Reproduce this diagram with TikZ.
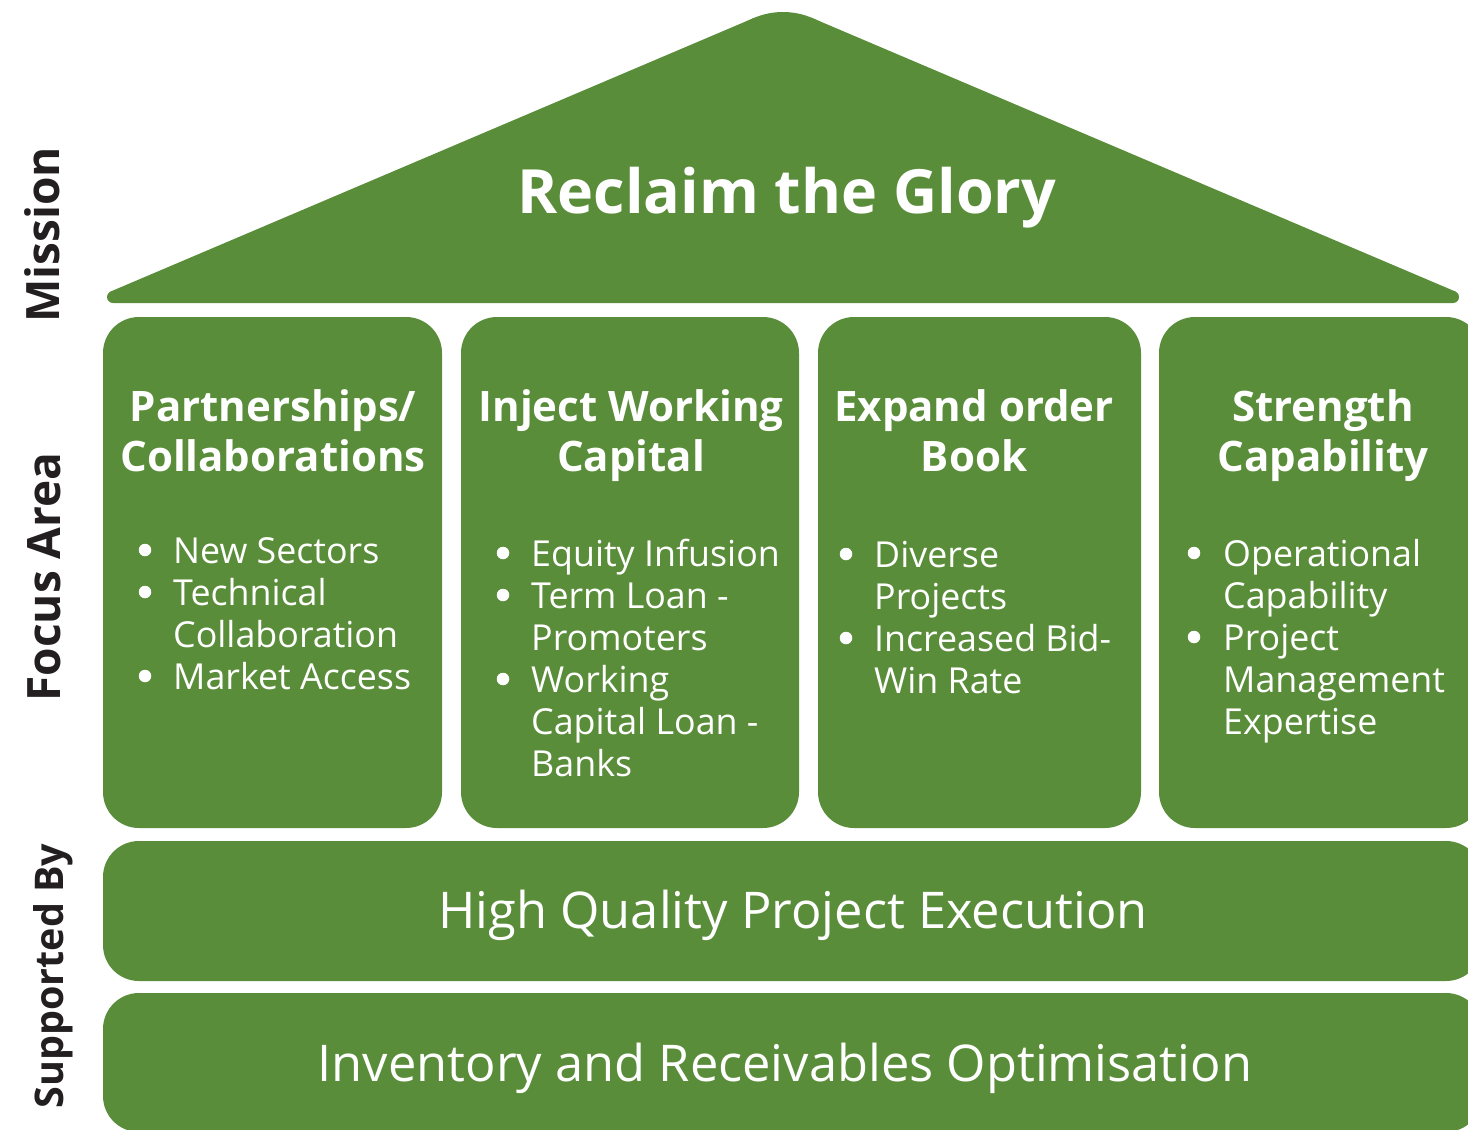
\documentclass[tikz,border=0pt]{standalone}
\usepackage{fontspec}
\setmainfont{Open Sans}
\definecolor{leaf}{RGB}{90,141,58}
\definecolor{labelink}{RGB}{35,31,32}
\tikzset{
  block/.style={fill=leaf, draw=none, rounded corners=36pt, inner sep=0pt},
  titletext/.style={text=white, font=\bfseries\fontsize{61}{70}\selectfont, anchor=base, inner sep=0pt},
  headtext/.style={text=white, font=\bfseries\fontsize{42}{50}\selectfont, anchor=base, inner sep=0pt},
  itemtext/.style={text=white, font=\fontsize{35.8}{42}\selectfont, anchor=base west, inner sep=0pt},
  bulletdot/.style={circle, fill=white, minimum size=12.5pt, inner sep=0pt},
  bartext/.style={text=white, font=\fontsize{50.6}{60}\selectfont, anchor=base, inner sep=0pt},
  sidetext/.style={text=labelink, font=\bfseries\fontsize{46}{56}\selectfont, rotate=90, anchor=base, inner sep=0pt}
}
\begin{document}
\begin{tikzpicture}[x=1pt,y=-1pt]
\useasboundingbox (0,0) rectangle (1468,1130);
\clip (0,0) rectangle (1468,1130);
% roof: straight edges between tangent points, rounded by filled circles
\fill[leaf] (113,303) -- (110.65,291.5) -- (754.1,17.9) -- (811.9,17.9)
  -- (1455.35,291.5) -- (1453,303) -- cycle;
\fill[leaf] (113,297) circle[radius=6pt];
\fill[leaf] (1453,297) circle[radius=6pt];
\fill[leaf] (783,86) circle[radius=74pt];
\node[titletext] (title) at (787,213) {Reclaim the Glory};
% pillars
\node[block, minimum width=339pt, minimum height=511pt] (p1) at (272.5,572.5) {};
\node[block, minimum width=338pt, minimum height=511pt] (p2) at (630,572.5) {};
\node[block, minimum width=323pt, minimum height=511pt] (p3) at (979.5,572.5) {};
\node[block, minimum width=323pt, minimum height=511pt] (p4) at (1320.5,572.5) {};
% bars
\node[block, minimum width=1379pt, minimum height=140pt] (b1) at (792.5,911) {};
\node[block, minimum width=1379pt, minimum height=139pt] (b2) at (792.5,1062.5) {};
% headings
\node[headtext] (h1a) at (273,421) {Partnerships/};
\node[headtext] (h1b) at (273,471) {Collaborations};
\node[headtext] (h2a) at (631,421) {Inject Working};
\node[headtext] (h2b) at (631,471) {Capital};
\node[headtext] (h3a) at (974,421) {Expand order};
\node[headtext] (h3b) at (974,471) {Book};
\node[headtext] (h4a) at (1323,421) {Strength};
\node[headtext] (h4b) at (1323,471) {Capability};
% pillar 1 items
\node[bulletdot] (d1a) at (145,550) {};
\node[itemtext] (i1a) at (173,563) {New Sectors};
\node[bulletdot] (d1b) at (145,592) {};
\node[itemtext] (i1b) at (173,605) {Technical};
\node[itemtext] (i1c) at (173,647) {Collaboration};
\node[bulletdot] (d1d) at (145,676) {};
\node[itemtext] (i1d) at (173,689) {Market Access};
% pillar 2 items
\node[bulletdot] (d2a) at (503,553) {};
\node[itemtext] (i2a) at (531,566) {Equity Infusion};
\node[bulletdot] (d2b) at (503,595) {};
\node[itemtext] (i2b) at (531,608) {Term Loan -};
\node[itemtext] (i2c) at (531,650) {Promoters};
\node[bulletdot] (d2d) at (503,679) {};
\node[itemtext] (i2d) at (531,692) {Working};
\node[itemtext] (i2e) at (531,734) {Capital Loan -};
\node[itemtext] (i2f) at (531,776) {Banks};
% pillar 3 items
\node[bulletdot] (d3a) at (846,554) {};
\node[itemtext] (i3a) at (874,567) {Diverse};
\node[itemtext] (i3b) at (874,609) {Projects};
\node[bulletdot] (d3c) at (846,638) {};
\node[itemtext] (i3c) at (874,651) {Increased Bid-};
\node[itemtext] (i3d) at (874,693) {Win Rate};
% pillar 4 items
\node[bulletdot] (d4a) at (1194,553) {};
\node[itemtext] (i4a) at (1223,566) {Operational};
\node[itemtext] (i4b) at (1223,608) {Capability};
\node[bulletdot] (d4c) at (1194,637) {};
\node[itemtext] (i4c) at (1223,650) {Project};
\node[itemtext] (i4d) at (1223,692) {Management};
\node[itemtext] (i4e) at (1223,734) {Expertise};
% bar texts
\node[bartext] (bt1) at (793,928) {High Quality Project Execution};
\node[bartext] (bt2) at (785,1081) {Inventory and Receivables Optimisation};
% side labels
\node[sidetext] (s1) at (59,235) {Mission};
\node[sidetext] (s2) at (60,577) {Focus Area};
\node[sidetext, font=\bfseries\fontsize{39.5}{50}\selectfont] (s3) at (63,976) {Supported By};
\end{tikzpicture}
\end{document}
